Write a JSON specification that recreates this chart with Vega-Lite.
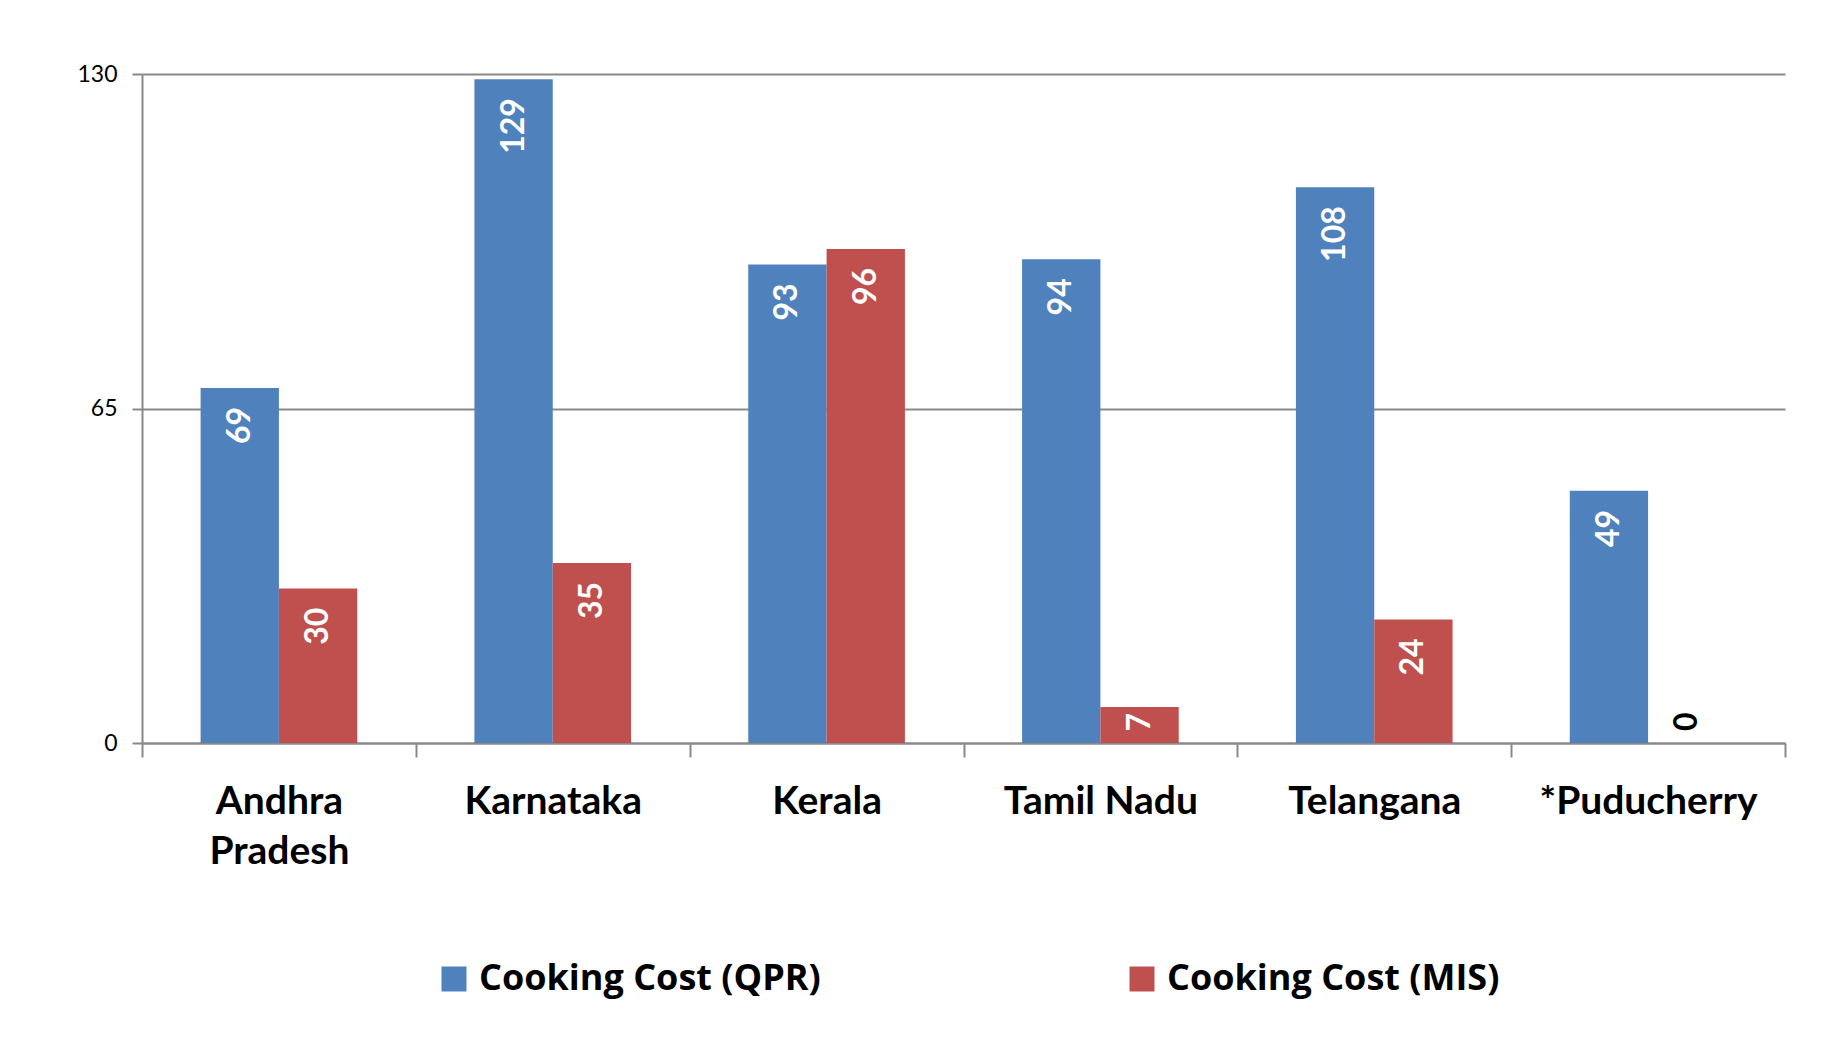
{
  "$schema": "https://vega.github.io/schema/vega-lite/v6.json",
  "width": 1643,
  "height": 669,
  "autosize": {"type": "none"},
  "padding": {"left": 142, "top": 74, "right": 50, "bottom": 321},
  "background": "white",
  "data": {
    "values": [
      {"state": "Andhra Pradesh", "series": "Cooking Cost (QPR)", "value": 69},
      {"state": "Andhra Pradesh", "series": "Cooking Cost (MIS)", "value": 30},
      {"state": "Karnataka", "series": "Cooking Cost (QPR)", "value": 129},
      {"state": "Karnataka", "series": "Cooking Cost (MIS)", "value": 35},
      {"state": "Kerala", "series": "Cooking Cost (QPR)", "value": 93},
      {"state": "Kerala", "series": "Cooking Cost (MIS)", "value": 96},
      {"state": "Tamil Nadu", "series": "Cooking Cost (QPR)", "value": 94},
      {"state": "Tamil Nadu", "series": "Cooking Cost (MIS)", "value": 7},
      {"state": "Telangana", "series": "Cooking Cost (QPR)", "value": 108},
      {"state": "Telangana", "series": "Cooking Cost (MIS)", "value": 24},
      {"state": "*Puducherry", "series": "Cooking Cost (QPR)", "value": 49},
      {"state": "*Puducherry", "series": "Cooking Cost (MIS)", "value": 0}
    ]
  },
  "encoding": {
    "x": {
      "field": "state",
      "type": "nominal",
      "sort": null,
      "scale": {"paddingInner": 0, "paddingOuter": 0},
      "axis": {
        "title": null,
        "labelAngle": 0,
        "labelFont": "Lato",
        "labelFontWeight": "bold",
        "labelFontSize": 39,
        "labelColor": "black",
        "labelPadding": 25,
        "labelBaseline": "top",
        "labelLineHeight": 50,
        "labelLimit": 500,
        "labelExpr": "datum.value == 'Andhra Pradesh' ? ['Andhra', 'Pradesh'] : datum.value",
        "tickSize": 14,
        "tickColor": "#898989",
        "tickWidth": 2,
        "tickBand": "extent",
        "domainColor": "#898989",
        "domainWidth": 2,
        "grid": false
      }
    },
    "xOffset": {
      "field": "series",
      "type": "nominal",
      "sort": ["Cooking Cost (QPR)", "Cooking Cost (MIS)"],
      "scale": {"paddingInner": 0, "paddingOuter": 0.748}
    },
    "y": {
      "field": "value",
      "type": "quantitative",
      "scale": {"domain": [0, 130], "nice": false},
      "axis": {
        "title": null,
        "values": [0, 65, 130],
        "grid": true,
        "gridColor": "#898989",
        "gridWidth": 2,
        "domainColor": "#898989",
        "domainWidth": 2,
        "tickColor": "#898989",
        "tickWidth": 2,
        "tickSize": 10,
        "labelFont": "Lato",
        "labelFontSize": 23,
        "labelColor": "black",
        "labelPadding": 15
      }
    }
  },
  "layer": [
    {
      "mark": {"type": "bar"},
      "encoding": {
        "color": {
          "field": "series",
          "type": "nominal",
          "sort": ["Cooking Cost (QPR)", "Cooking Cost (MIS)"],
          "scale": {"domain": ["Cooking Cost (QPR)", "Cooking Cost (MIS)"], "range": ["#4F81BD", "#C0504D"]},
          "legend": {
            "title": null,
            "orient": "none",
            "legendX": 294,
            "legendY": 887,
            "direction": "horizontal",
            "symbolType": "square",
            "symbolSize": 625,
            "symbolStrokeWidth": 0,
            "labelFont": "Open Sans",
            "labelFontWeight": "bold",
            "labelFontSize": 36,
            "labelColor": "black",
            "labelOffset": 7,
            "labelLimit": 600,
            "columnPadding": 303
          }
        }
      }
    },
    {
      "transform": [{"filter": "datum.value >= 10"}],
      "mark": {"type": "text", "angle": 270, "align": "right", "baseline": "middle", "dx": -19, "font": "Lato", "fontWeight": "bold", "fontSize": 32, "color": "white"},
      "encoding": {"text": {"field": "value", "type": "quantitative"}}
    },
    {
      "transform": [{"filter": "datum.value > 0 && datum.value < 10"}],
      "mark": {"type": "text", "angle": 270, "align": "right", "baseline": "middle", "dx": -6, "font": "Lato", "fontWeight": "bold", "fontSize": 32, "color": "white"},
      "encoding": {"text": {"field": "value", "type": "quantitative"}}
    },
    {
      "transform": [{"filter": "datum.value == 0"}],
      "mark": {"type": "text", "angle": 270, "align": "left", "baseline": "middle", "dx": 12, "font": "Lato", "fontWeight": "bold", "fontSize": 32, "color": "black"},
      "encoding": {"text": {"field": "value", "type": "quantitative"}}
    }
  ],
  "config": {
    "view": {"stroke": null}
  }
}
